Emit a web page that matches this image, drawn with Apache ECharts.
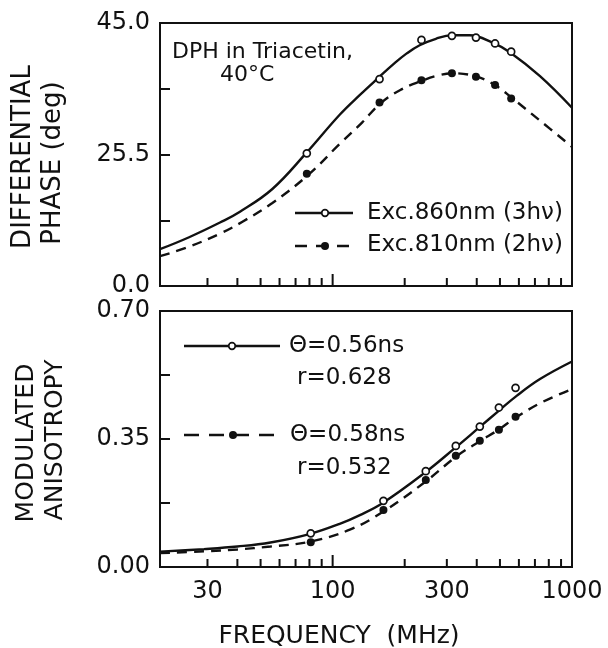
<!DOCTYPE html>
<html><head><meta charset="utf-8">
<script src="https://cdn.jsdelivr.net/npm/echarts@6/dist/echarts.min.js"></script>
<style>html,body{margin:0;padding:0;background:#fff}#c{width:608px;height:648px}</style>
</head><body><div id="c"></div>
<script>
// ---- data ----
const phasePointFreqs = [78, 157, 235, 315, 397, 477, 557];
const phase860 = [22.7, 35.4, 42.1, 42.8, 42.5, 41.5, 40.1];
const phase810 = [19.2, 31.4, 35.2, 36.4, 35.8, 34.4, 32.1];

const anisoPointFreqs = [81, 163, 245, 327, 412, 495, 581];
const aniso860 = [0.092, 0.181, 0.262, 0.331, 0.384, 0.436, 0.490];
const aniso810 = [0.0675, 0.156, 0.238, 0.304, 0.345, 0.375, 0.411];

const phaseSolidF = [19, 25, 34, 41, 56, 77, 107, 130, 155, 180, 204, 231, 270, 315, 374, 468, 550, 735, 1000];
const phaseSolidV = [6.3, 8.3, 10.9, 12.7, 16.6, 22.6, 29.3, 32.7, 35.6, 38.0, 39.8, 41.2, 42.3, 42.9, 42.9, 41.6, 40.0, 35.9, 30.5];
const phaseDashF = [19, 25, 34, 42, 56, 79, 107, 133, 157, 191, 236, 275, 320, 393, 476, 560, 735, 1000];
const phaseDashV = [5.1, 6.7, 9.0, 11.0, 14.2, 19.0, 24.3, 28.0, 31.1, 33.5, 35.1, 36.0, 36.4, 35.9, 34.4, 32.2, 28.3, 23.8];

const anisoSolidF = [19, 29, 40, 55, 80, 107, 130, 162, 243, 324, 412, 490, 587, 735, 1000];
const anisoSolidV = [0.042, 0.049, 0.056, 0.067, 0.090, 0.118, 0.142, 0.175, 0.258, 0.325, 0.383, 0.425, 0.468, 0.514, 0.562];
const anisoDashF = [19, 29, 40, 55, 80, 118, 164, 245, 330, 412, 495, 583, 757, 1000];
const anisoDashV = [0.038, 0.043, 0.048, 0.056, 0.069, 0.102, 0.153, 0.234, 0.303, 0.344, 0.376, 0.409, 0.452, 0.486];

const freqTickValues = [30, 40, 50, 60, 70, 80, 90, 100, 200, 300, 400, 500, 600, 700, 800, 900];
const freqLabelValues = [30, 100, 300, 1000];
const phaseTickLabels = ['0.0', '', '25.5', '', '45.0'];
const anisoTickLabels = ['0.00', '', '0.35', '', '0.70'];

// ---- chart ----
const zip = (a, b) => a.map((v, i) => [v, b[i]]);
const FONT = '"DejaVu Sans", sans-serif';
const INK = '#111';

const xAxisBase = {
  type: 'log', min: 19, max: 1000, logBase: 10,
  axisLine: { show: true, lineStyle: { color: INK, width: 2 } },
  axisTick: { show: false }, axisLabel: { show: false },
  splitLine: { show: false }, minorTick: { show: false }
};
const yAxisBase = {
  type: 'value',
  axisLine: { show: true, lineStyle: { color: INK, width: 2 } },
  axisTick: { show: true, inside: true, length: 10, lineStyle: { color: INK, width: 2 } },
  splitLine: { show: false },
  axisLabel: { color: INK, fontFamily: FONT, fontSize: 24, margin: 10 }
};

function tickSeries(idx) {
  return {
    type: 'scatter', xAxisIndex: idx, yAxisIndex: idx, clip: false, silent: true, z: 5,
    symbol: 'rect',
    itemStyle: { color: INK, opacity: 1 },
    data: freqTickValues.map(f => ({
      value: [f, 0],
      symbolSize: f === 100 ? [2, 12] : [2, 8],
      symbolOffset: [0, f === 100 ? -6 : -4]
    }))
  };
}

const openPt = { color: '#fff', borderColor: INK, borderWidth: 1.7, opacity: 1 };
const fullPt = { color: INK, opacity: 1 };

const option = {
  backgroundColor: '#fff',
  animation: false,
  grid: [
    { left: 160, top: 23, width: 412, height: 263, show: true, borderColor: INK, borderWidth: 2, backgroundColor: 'transparent' },
    { left: 160, top: 311, width: 412, height: 256, show: true, borderColor: INK, borderWidth: 2, backgroundColor: 'transparent' }
  ],
  xAxis: [
    Object.assign({ gridIndex: 0 }, xAxisBase),
    Object.assign({ gridIndex: 1 }, xAxisBase)
  ],
  yAxis: [
    Object.assign({}, yAxisBase, { gridIndex: 0, min: 0, max: 45, interval: 11.25,
      axisLabel: Object.assign({}, yAxisBase.axisLabel, { formatter: v => phaseTickLabels[Math.round(v / 11.25)] }) }),
    Object.assign({}, yAxisBase, { gridIndex: 1, min: 0, max: 0.7, interval: 0.175,
      axisLabel: Object.assign({}, yAxisBase.axisLabel, { formatter: v => anisoTickLabels[Math.round(v / 0.175)] }) })
  ],
  series: [
    { type: 'line', xAxisIndex: 0, yAxisIndex: 0, data: zip(phaseSolidF, phaseSolidV), smooth: 0.4, showSymbol: false,
      lineStyle: { color: INK, width: 2.4 } },
    { type: 'line', xAxisIndex: 0, yAxisIndex: 0, data: zip(phaseDashF, phaseDashV), smooth: 0.4, showSymbol: false,
      lineStyle: { color: INK, width: 2.4, type: [10, 7] } },
    { type: 'scatter', xAxisIndex: 0, yAxisIndex: 0, data: zip(phasePointFreqs, phase860), symbol: 'circle', symbolSize: 7,
      itemStyle: openPt, z: 4 },
    { type: 'scatter', xAxisIndex: 0, yAxisIndex: 0, data: zip(phasePointFreqs, phase810), symbol: 'circle', symbolSize: 8,
      itemStyle: fullPt, z: 4 },

    { type: 'line', xAxisIndex: 1, yAxisIndex: 1, data: zip(anisoSolidF, anisoSolidV), smooth: 0.4, showSymbol: false,
      lineStyle: { color: INK, width: 2.4 } },
    { type: 'line', xAxisIndex: 1, yAxisIndex: 1, data: zip(anisoDashF, anisoDashV), smooth: 0.4, showSymbol: false,
      lineStyle: { color: INK, width: 2.4, type: [10, 7] } },
    { type: 'scatter', xAxisIndex: 1, yAxisIndex: 1, data: zip(anisoPointFreqs, aniso860), symbol: 'circle', symbolSize: 7,
      itemStyle: openPt, z: 4 },
    { type: 'scatter', xAxisIndex: 1, yAxisIndex: 1, data: zip(anisoPointFreqs, aniso810), symbol: 'circle', symbolSize: 8,
      itemStyle: fullPt, z: 4 },

    tickSeries(0),
    tickSeries(1),
    { type: 'scatter', xAxisIndex: 1, yAxisIndex: 1, clip: false, silent: true, symbolSize: 1,
      itemStyle: { color: 'rgba(0,0,0,0)', opacity: 1 },
      label: { show: true, position: 'bottom', distance: 12, color: INK, opacity: 1, fontFamily: FONT, fontSize: 24,
        formatter: p => String(p.value[0]) },
      data: freqLabelValues.map(f => [f, 0]) }
  ],
  graphic: [
    // axis titles
    { type: 'text', x: 23, y: 157, rotation: Math.PI / 2, style: { text: 'DIFFERENTIAL', font: '26px ' + FONT, fill: INK, align: 'center', verticalAlign: 'middle' } },
    { type: 'text', x: 53, y: 163, rotation: Math.PI / 2, style: { text: 'PHASE (deg)', font: '26px ' + FONT, fill: INK, align: 'center', verticalAlign: 'middle' } },
    { type: 'text', x: 26, y: 443, rotation: Math.PI / 2, style: { text: 'MODULATED', font: '25px ' + FONT, fill: INK, align: 'center', verticalAlign: 'middle' } },
    { type: 'text', x: 55, y: 440, rotation: Math.PI / 2, style: { text: 'ANISOTROPY', font: '25px ' + FONT, fill: INK, align: 'center', verticalAlign: 'middle' } },
    { type: 'text', x: 339, y: 636, style: { text: 'FREQUENCY  (MHz)', font: '25px ' + FONT, fill: INK, align: 'center', verticalAlign: 'middle' } },
    // annotation
    { type: 'text', x: 172, y: 52, style: { text: 'DPH in Triacetin,', font: '22px ' + FONT, fill: INK, align: 'left', verticalAlign: 'middle' } },
    { type: 'text', x: 220, y: 75, style: { text: '40°C', font: '22px ' + FONT, fill: INK, align: 'left', verticalAlign: 'middle' } },
    // top legend
    { type: 'line', shape: { x1: 295, y1: 213, x2: 353, y2: 213 }, style: { stroke: INK, lineWidth: 2.4 } },
    { type: 'circle', shape: { cx: 325, cy: 213, r: 3.3 }, style: { fill: '#fff', stroke: INK, lineWidth: 1.7 }, z: 10 },
    { type: 'text', x: 367, y: 213, style: { text: 'Exc.860nm (3hν)', font: '23px ' + FONT, fill: INK, align: 'left', verticalAlign: 'middle' } },
    { type: 'line', shape: { x1: 295, y1: 246, x2: 353, y2: 246 }, style: { stroke: INK, lineWidth: 2.4, lineDash: [12, 9] } },
    { type: 'circle', shape: { cx: 325, cy: 246, r: 4 }, style: { fill: INK }, z: 10 },
    { type: 'text', x: 367, y: 245, style: { text: 'Exc.810nm (2hν)', font: '23px ' + FONT, fill: INK, align: 'left', verticalAlign: 'middle' } },
    // bottom legend
    { type: 'line', shape: { x1: 184, y1: 346, x2: 280, y2: 346 }, style: { stroke: INK, lineWidth: 2.4 } },
    { type: 'circle', shape: { cx: 232, cy: 346, r: 3.3 }, style: { fill: '#fff', stroke: INK, lineWidth: 1.7 }, z: 10 },
    { type: 'text', x: 289, y: 346, style: { text: 'Θ=0.56ns', font: '23px ' + FONT, fill: INK, align: 'left', verticalAlign: 'middle' } },
    { type: 'text', x: 297, y: 378, style: { text: 'r=0.628', font: '23px ' + FONT, fill: INK, align: 'left', verticalAlign: 'middle' } },
    { type: 'line', shape: { x1: 184, y1: 435, x2: 280, y2: 435 }, style: { stroke: INK, lineWidth: 2.4, lineDash: [15, 10] } },
    { type: 'circle', shape: { cx: 233, cy: 435, r: 4 }, style: { fill: INK }, z: 10 },
    { type: 'text', x: 290, y: 435, style: { text: 'Θ=0.58ns', font: '23px ' + FONT, fill: INK, align: 'left', verticalAlign: 'middle' } },
    { type: 'text', x: 297, y: 468, style: { text: 'r=0.532', font: '23px ' + FONT, fill: INK, align: 'left', verticalAlign: 'middle' } }
  ]
};

const chart = echarts.init(document.getElementById('c'), null, { renderer: 'canvas' });
chart.setOption(option);
</script></body></html>
